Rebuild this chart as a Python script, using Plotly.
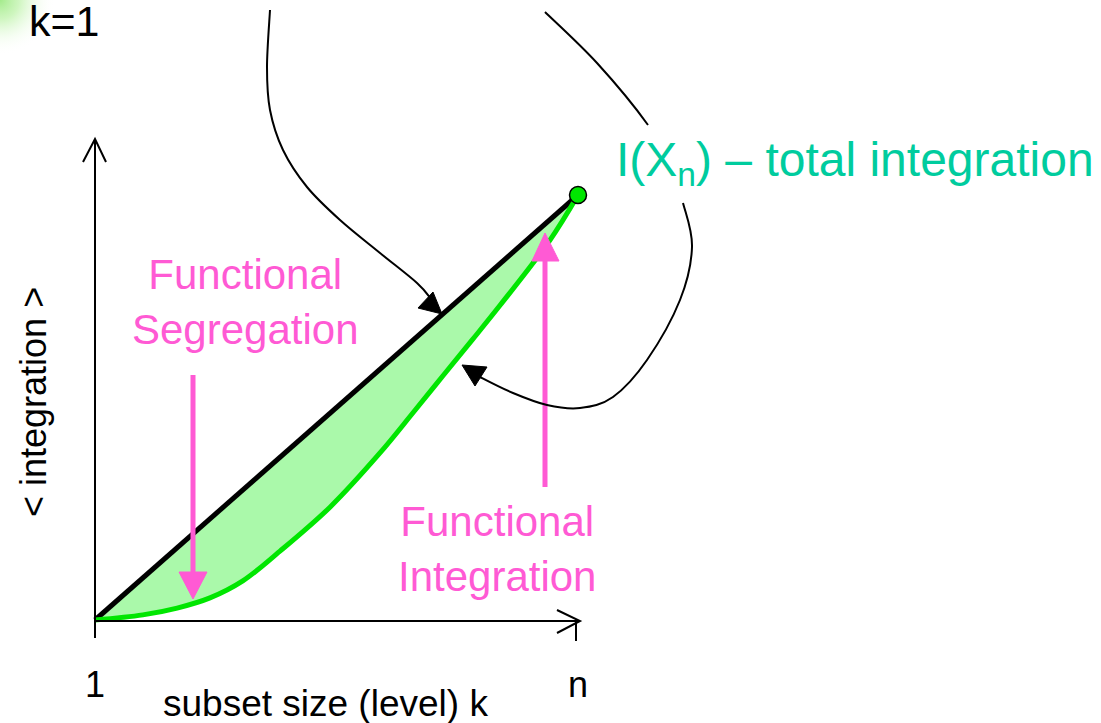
import plotly.graph_objects as go

""" Data """
# subset size k, scaled so that k=1 -> 0 and k=n -> 1
k_level = [0, 0.099, 0.170, 0.238, 0.306, 0.383, 0.487, 0.590, 0.658, 0.720, 0.781, 0.839, 0.942, 1.0]
# mean integration at level k, scaled so that I(X_n) -> 1
integration_curve = [0, 0.012, 0.028, 0.052, 0.092, 0.162, 0.266, 0.393, 0.487, 0.574, 0.659, 0.741, 0.894, 1.0]
# linear reference (k/n) * I(X_n)
k_linear = [0, 1.0]
integration_linear = [0, 1.0]
tick_positions = [0, 1.0]
tick_labels = ['1', 'n']

""" Geometry helpers """
W, H = 1101, 723
X0, Y0 = 95, 620      # pixel position of (k=1, integration=0)
SX, SY = 483, 425     # pixels per unit

PINK = '#ff5ad4'
TEAL = '#00cc9e'
GREEN = '#00e600'
FILL = '#aaf9aa'
FONT = 'Arial, Liberation Sans, sans-serif'


def dx(px):
    return (px - X0) / SX


def dy(py):
    return (Y0 - py) / SY


def pt(p):
    return f'{dx(p[0]):.5f},{dy(p[1]):.5f}'


def smooth_path(pts, skip=()):
    # catmull-rom through the points, written as cubic beziers
    d = 'M ' + pt(pts[0])
    for i in range(len(pts) - 1):
        p0 = pts[i - 1] if i > 0 else pts[i]
        p1, p2 = pts[i], pts[i + 1]
        p3 = pts[i + 2] if i + 2 < len(pts) else pts[i + 1]
        c1 = (p1[0] + (p2[0] - p0[0]) / 6, p1[1] + (p2[1] - p0[1]) / 6)
        c2 = (p2[0] - (p3[0] - p1[0]) / 6, p2[1] - (p3[1] - p1[1]) / 6)
        if i in skip:
            d += ' M ' + pt(p2)
        else:
            d += f' C {pt(c1)} {pt(c2)} {pt(p2)}'
    return d


def poly(pts, close=True):
    d = 'M ' + ' L '.join(pt(p) for p in pts)
    return d + (' Z' if close else '')


shapes = []


def add_path(d, color, width=2, fill=None):
    shapes.append(dict(type='path', path=d, xref='x', yref='y',
                       line=dict(color=color, width=width),
                       fillcolor=fill if fill else 'rgba(0,0,0,0)'))


""" Figure """
fig = go.Figure()

# soft green glow in the top-left corner
fig.add_trace(go.Scatter(x=[dx(-55), dx(55), dx(55), dx(-55)], y=[dy(-55), dy(-55), dy(55), dy(55)],
                         fill='toself', mode='lines', line=dict(width=0), hoverinfo='skip',
                         fillgradient=dict(type='radial',
                                           colorscale=[[0, 'rgba(140,230,110,0.8)'],
                                                       [0.35, 'rgba(175,240,150,0.6)'],
                                                       [0.7, 'rgba(225,250,215,0.3)'],
                                                       [1, 'rgba(255,255,255,0)']]),
                         showlegend=False))

# linear reference, then the curve filled up to it
fig.add_trace(go.Scatter(x=k_linear, y=integration_linear, mode='lines',
                         line=dict(color='black', width=5), showlegend=False))
fig.add_trace(go.Scatter(x=k_level, y=integration_curve, mode='lines', fill='tonexty',
                         fillcolor=FILL,
                         line=dict(color=GREEN, width=5, shape='spline', smoothing=1),
                         showlegend=False))
fig.add_trace(go.Scatter(x=[k_level[-1]], y=[integration_curve[-1]], mode='markers',
                         marker=dict(size=17, color=GREEN, line=dict(color='black', width=1.5)),
                         showlegend=False))

# axes with open arrowheads
add_path(poly([(95, 638), (95, 139)], close=False), 'black', 2)
add_path(poly([(83, 162), (95, 139), (106, 162)], close=False), 'black', 2)
add_path(poly([(95, 621), (580, 621)], close=False), 'black', 2)
add_path(poly([(557, 610), (580, 621), (557, 633)], close=False), 'black', 2)
add_path(poly([(576, 621), (576, 641)], close=False), 'black', 2)

# pink arrows
add_path(poly([(193, 375), (193, 575)], close=False), PINK, 5)
add_path(poly([(179, 572), (207, 572), (193, 599)]), PINK, 1, PINK)
add_path(poly([(545, 487), (545, 258)], close=False), PINK, 5)
add_path(poly([(532, 261), (559, 261), (545, 233)]), PINK, 1, PINK)

# black curved arrows
add_path(smooth_path([(270, 10), (267, 67), (270, 110), (283, 150), (307, 187), (340, 220),
                      (380, 253), (417, 283), (432, 300)]), 'black', 2)
add_path(poly([(442, 314), (418, 308), (433, 292)]), 'black', 1, 'black')
add_path(smooth_path([(545, 12), (597, 63), (648, 125), (670, 165), (683, 203), (692, 247),
                      (680, 300), (647, 360), (613, 397), (580, 408), (547, 405), (513, 393),
                      (480, 377), (472, 372)], skip=(2, 3)), 'black', 2)
add_path(poly([(462, 365), (487, 367), (475, 386)]), 'black', 1, 'black')

annotations = [
    dict(x=dx(64), y=dy(21), text='k=1', font=dict(size=43, color='black')),
    dict(x=dx(614), y=dy(163), text='I(X<sub>n</sub>) – total integration',
         xanchor='left', font=dict(size=48, color=TEAL)),
    dict(x=dx(245), y=dy(302), text='Functional<br>Segregation', font=dict(size=42, color=PINK)),
    dict(x=dx(497), y=dy(549), text='Functional<br>Integration', font=dict(size=42, color=PINK)),
    dict(x=dx(33), y=dy(402), text='< integration >', textangle=-90,
         font=dict(size=36, color='black')),
    dict(x=dx(325), y=dy(703), text='subset size (level) k', font=dict(size=37, color='black')),
]
for pos, lab in zip(tick_positions, tick_labels):
    annotations.append(dict(x=pos, y=dy(684), text=lab, font=dict(size=36, color='black')))

for a in annotations:
    a.setdefault('xanchor', 'center')
    a.update(xref='x', yref='y', showarrow=False, yanchor='middle')
    a['font']['family'] = FONT

fig.update_layout(width=W, height=H, margin=dict(l=0, r=0, t=0, b=0),
                  plot_bgcolor='white', paper_bgcolor='white',
                  shapes=shapes, annotations=annotations,
                  xaxis=dict(range=[dx(0), dx(W)], visible=False, fixedrange=True),
                  yaxis=dict(range=[dy(H), dy(0)], visible=False, fixedrange=True))

fig.write_html("out.html", config={'displayModeBar': False},
               post_script="document.body.style.margin='0';")
